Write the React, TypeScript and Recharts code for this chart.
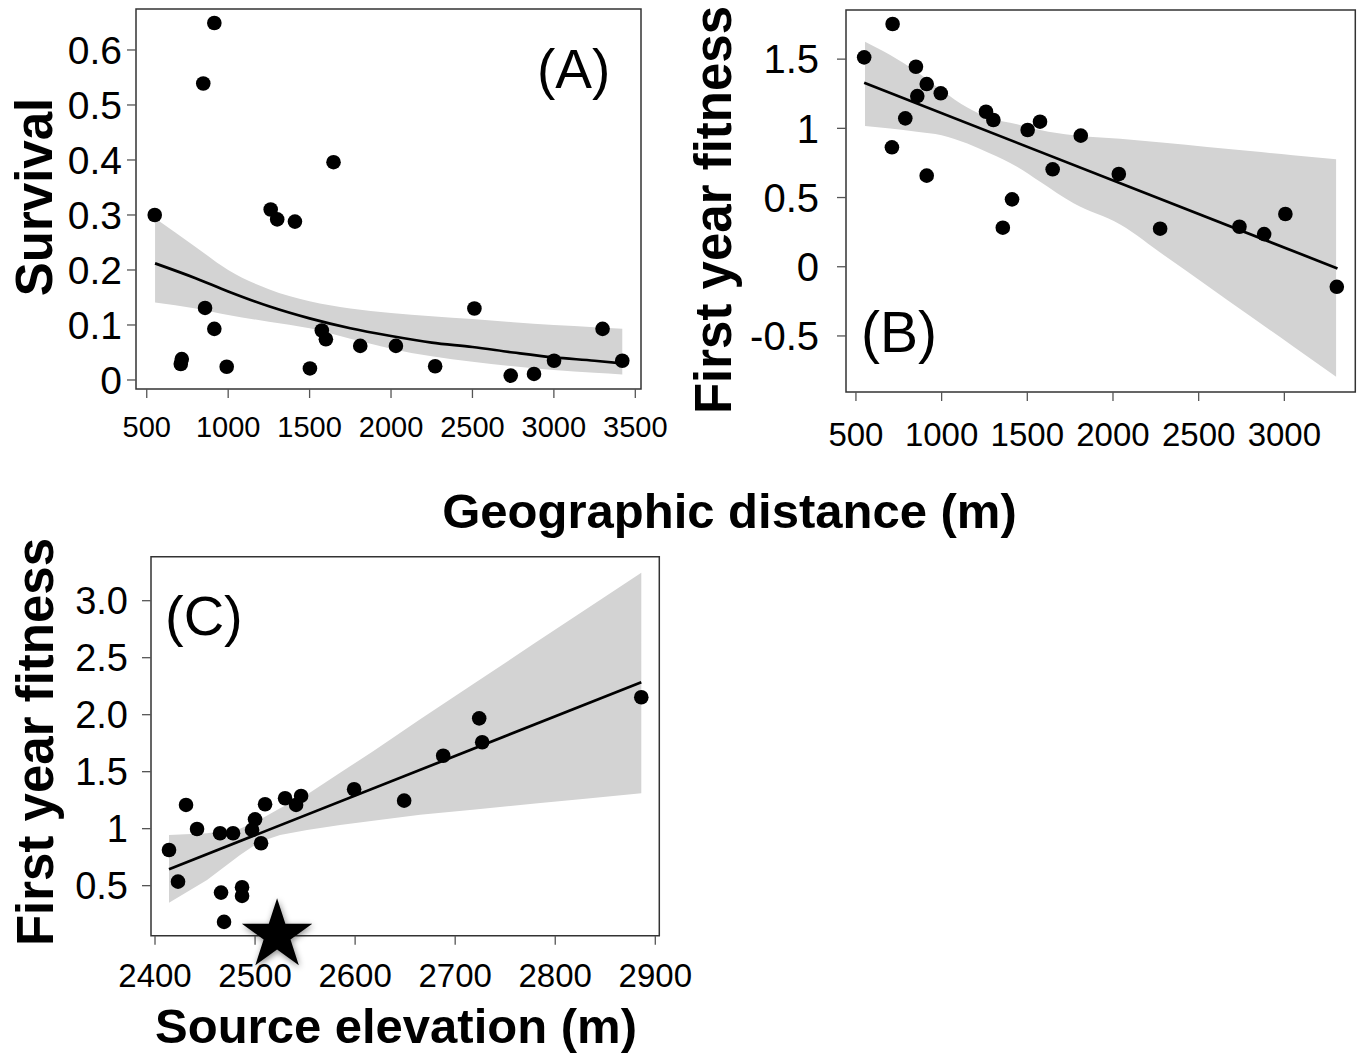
import React from "react";
import {
  ComposedChart,
  Area,
  Line,
  Scatter,
  XAxis,
  YAxis,
  ReferenceArea,
} from "recharts";

const FONT = "'Liberation Sans', Arial, Helvetica, sans-serif";
const BAND = "#d3d3d3";

// (A) survival vs geographic distance
const distA = [549, 915, 847, 858, 915, 715, 709, 991, 1261, 1301, 1410, 1647, 1575, 1600, 1502, 1811, 2030, 2271, 2512, 2735, 2878, 3001, 3299, 3420];
const survivalA = [0.3, 0.649, 0.539, 0.131, 0.093, 0.038, 0.029, 0.024, 0.31, 0.292, 0.288, 0.396, 0.09, 0.074, 0.021, 0.062, 0.062, 0.025, 0.13, 0.008, 0.011, 0.035, 0.093, 0.035];
const fitXA = [551, 800, 1000, 1250, 1500, 1750, 2000, 2250, 2500, 2750, 3000, 3250, 3420];
const fitYA = [0.212, 0.185, 0.161, 0.134, 0.112, 0.094, 0.08, 0.068, 0.06, 0.05, 0.041, 0.035, 0.03];
const bandLoA = [0.141, 0.13, 0.118, 0.106, 0.094, 0.075, 0.057, 0.043, 0.033, 0.025, 0.018, 0.013, 0.01];
const bandHiA = [0.294, 0.242, 0.2, 0.165, 0.143, 0.13, 0.122, 0.116, 0.111, 0.105, 0.1, 0.096, 0.093];
const xTicksA = [500, 1000, 1500, 2000, 2500, 3000, 3500];
const yTicksA = [0, 0.1, 0.2, 0.3, 0.4, 0.5, 0.6];
const yLabelsA = ["0", "0.1", "0.2", "0.3", "0.4", "0.5", "0.6"];

// (B) first year fitness vs geographic distance
const distB = [548, 714, 850, 913, 858, 995, 788, 710, 913, 1259, 1302, 1502, 1574, 1648, 1411, 1357, 1812, 2034, 2275, 2738, 2882, 3006, 3306];
const fitnessB = [1.513, 1.754, 1.445, 1.32, 1.233, 1.253, 1.072, 0.863, 0.658, 1.12, 1.06, 0.988, 1.048, 0.704, 0.487, 0.282, 0.947, 0.67, 0.275, 0.289, 0.236, 0.381, -0.145];
const fitXB = [548, 3310];
const fitYB = [1.329, -0.012];
const bandXB = [553, 700, 855, 1000, 1150, 1280, 1440, 1575, 1770, 2042, 2300, 2550, 2800, 3050, 3302];
const bandLoB = [1.017, 0.998, 0.975, 0.95, 0.89, 0.82, 0.723, 0.614, 0.458, 0.305, 0.081, -0.137, -0.356, -0.574, -0.795];
const bandHiB = [1.626, 1.53, 1.409, 1.275, 1.15, 1.075, 1.03, 0.988, 0.95, 0.925, 0.895, 0.865, 0.836, 0.806, 0.776];
const xTicksB = [500, 1000, 1500, 2000, 2500, 3000];
const yTicksB = [-0.5, 0, 0.5, 1, 1.5];
const yLabelsB = ["-0.5", "0", "0.5", "1", "1.5"];

// (C) first year fitness vs source elevation
const elevC = [2414, 2423, 2431, 2442, 2465, 2478, 2466, 2469, 2487, 2487, 2497, 2500, 2506, 2510, 2530, 2541, 2546, 2599, 2649, 2688, 2724, 2727, 2886];
const fitnessC = [0.813, 0.535, 1.208, 0.997, 0.96, 0.96, 0.439, 0.182, 0.486, 0.41, 0.989, 1.082, 0.872, 1.214, 1.267, 1.208, 1.287, 1.346, 1.246, 1.64, 1.968, 1.758, 2.153];
const fitXC = [2414, 2886];
const fitYC = [0.644, 2.284];
const bandXC = [2414, 2452, 2485, 2505, 2525, 2552, 2585, 2618, 2665, 2720, 2780, 2830, 2886];
const bandLoC = [0.351, 0.55, 0.769, 0.886, 0.945, 0.989, 1.032, 1.07, 1.122, 1.169, 1.22, 1.262, 1.31];
const bandHiC = [0.945, 0.96, 1.0, 1.08, 1.18, 1.3, 1.49, 1.68, 1.96, 2.28, 2.63, 2.92, 3.246];
const starElev = [2522];
const starY = [0.065];
const xTicksC = [2400, 2500, 2600, 2700, 2800, 2900];
const yTicksC = [0.5, 1, 1.5, 2, 2.5, 3];
const yLabelsC = ["0.5", "1", "1.5", "2.0", "2.5", "3.0"];

const zip = (xs: number[], ys: number[]) => xs.map((x, i) => ({ x, y: ys[i] }));
const zipBand = (xs: number[], lo: number[], hi: number[]) =>
  xs.map((x, i) => ({ x, range: [lo[i], hi[i]] }));

const Dot = (props: any) => <circle cx={props.cx} cy={props.cy} r={7.3} fill="#000" />;

const Star = (props: any) => {
  const { cx, cy } = props;
  const R = 37;
  const r = R * 0.382;
  const pts: string[] = [];
  for (let i = 0; i < 10; i++) {
    const rad = i % 2 === 0 ? R : r;
    const a = -Math.PI / 2 + (i * Math.PI) / 5;
    pts.push(`${cx + rad * Math.cos(a)},${cy + rad * Math.sin(a)}`);
  }
  return (
    <g>
      <defs>
        <filter id="starShadow" x="-50%" y="-50%" width="200%" height="200%">
          <feDropShadow dx="1" dy="2" stdDeviation="3" floodColor="#000" floodOpacity="0.45" />
        </filter>
      </defs>
      <polygon points={pts.join(" ")} fill="#000" filter="url(#starShadow)" />
    </g>
  );
};

interface PanelProps {
  left: number;
  top: number;
  width: number;
  height: number;
  plot: { l: number; t: number; r: number; b: number };
  xDomain: [number, number];
  yDomain: [number, number];
  xTicks: number[];
  yTicks: number[];
  yLabels: string[];
  xFont: number;
  yFont: number;
  xTickMargin: number;
  yTickMargin: number;
  band: any[];
  fit: any[];
  points: any[];
  curved: boolean;
  star?: any[];
}

const Panel = (p: PanelProps) => {
  const yW = 70;
  const xH = 60;
  return (
    <div style={{ position: "absolute", left: p.left, top: p.top }}>
      <ComposedChart
        width={p.width}
        height={p.height}
        margin={{
          top: p.plot.t,
          left: p.plot.l - yW,
          right: p.width - p.plot.r,
          bottom: p.height - p.plot.b - xH,
        }}
      >
        <XAxis
          type="number"
          dataKey="x"
          domain={p.xDomain}
          ticks={p.xTicks}
          interval={0}
          height={xH}
          axisLine={false}
          tickLine={{ stroke: "#555", strokeWidth: 1.3 }}
          tickSize={9}
          tickMargin={p.xTickMargin}
          tick={{ fontSize: p.xFont, fill: "#000", fontFamily: FONT }}
        />
        <YAxis
          type="number"
          domain={p.yDomain}
          ticks={p.yTicks}
          interval={0}
          width={yW}
          axisLine={false}
          tickLine={{ stroke: "#555", strokeWidth: 1.3 }}
          tickSize={9}
          tickMargin={p.yTickMargin}
          tickFormatter={(v: number, i: number) => p.yLabels[i]}
          tick={{ fontSize: p.yFont, fill: "#000", fontFamily: FONT }}
        />
        <Area
          data={p.band}
          dataKey="range"
          type={p.curved ? "monotone" : "linear"}
          stroke="none"
          fill={BAND}
          fillOpacity={1}
          isAnimationActive={false}
          dot={false}
          activeDot={false}
        />
        <Line
          data={p.fit}
          dataKey="y"
          type={p.curved ? "monotone" : "linear"}
          stroke="#000"
          strokeWidth={2.7}
          dot={false}
          activeDot={false}
          isAnimationActive={false}
        />
        <Scatter data={p.points} dataKey="y" shape={Dot} isAnimationActive={false} />
        {p.star && (
          <Scatter data={p.star} dataKey="y" shape={Star} isAnimationActive={false} />
        )}
        <ReferenceArea
          x1={p.xDomain[0]}
          x2={p.xDomain[1]}
          y1={p.yDomain[0]}
          y2={p.yDomain[1]}
          fill="none"
          stroke="#333"
          strokeWidth={1.5}
          ifOverflow="visible"
        />
      </ComposedChart>
    </div>
  );
};

const App = () => {
  const txt = { fontFamily: FONT, fill: "#000" };
  return (
    <div
      style={{
        position: "absolute",
        left: 0,
        top: 0,
        width: 1361,
        height: 1057,
        background: "#fff",
        overflow: "hidden",
      }}
    >
      <Panel
        left={0}
        top={0}
        width={680}
        height={460}
        plot={{ l: 136, t: 9, r: 641, b: 389 }}
        xDomain={[434, 3535]}
        yDomain={[-0.0164, 0.6745]}
        xTicks={xTicksA}
        yTicks={yTicksA}
        yLabels={yLabelsA}
        xFont={29}
        yFont={39}
        xTickMargin={18}
        yTickMargin={5}
        band={zipBand(fitXA, bandLoA, bandHiA)}
        fit={zip(fitXA, fitYA)}
        points={zip(distA, survivalA)}
        curved={true}
      />
      <Panel
        left={690}
        top={0}
        width={671}
        height={460}
        plot={{ l: 156, t: 10, r: 665.3, b: 392 }}
        xDomain={[442, 3414]}
        yDomain={[-0.905, 1.855]}
        xTicks={xTicksB}
        yTicks={yTicksB}
        yLabels={yLabelsB}
        xFont={33}
        yFont={40}
        xTickMargin={22}
        yTickMargin={18}
        band={zipBand(bandXB, bandLoB, bandHiB)}
        fit={zip(fitXB, fitYB)}
        points={zip(distB, fitnessB)}
        curved={true}
      />
      <Panel
        left={0}
        top={540}
        width={700}
        height={517}
        plot={{ l: 151, t: 16.7, r: 659.3, b: 395.7 }}
        xDomain={[2396, 2904]}
        yDomain={[0.061, 3.386]}
        xTicks={xTicksC}
        yTicks={yTicksC}
        yLabels={yLabelsC}
        xFont={33}
        yFont={38}
        xTickMargin={19}
        yTickMargin={14}
        band={zipBand(bandXC, bandLoC, bandHiC)}
        fit={zip(fitXC, fitYC)}
        points={zip(elevC, fitnessC)}
        curved={false}
        star={zip(starElev, starY)}
      />
      <svg
        width={1361}
        height={1057}
        style={{ position: "absolute", left: 0, top: 0, pointerEvents: "none" }}
      >
        <text {...txt} x={537} y={88} fontSize={55}>(A)</text>
        <text {...txt} x={861} y={352} fontSize={57}>(B)</text>
        <text {...txt} x={165} y={635} fontSize={56}>(C)</text>
        <text {...txt} x={52} y={197} fontSize={51} fontWeight="bold" textAnchor="middle" transform="rotate(-90 52 197)">
          Survival
        </text>
        <text {...txt} x={731} y={210} fontSize={51} fontWeight="bold" textAnchor="middle" transform="rotate(-90 731 210)">
          First year fitness
        </text>
        <text {...txt} x={53} y={742} fontSize={51} fontWeight="bold" textAnchor="middle" transform="rotate(-90 53 742)">
          First year fitness
        </text>
        <text {...txt} x={729.5} y={528} fontSize={49} fontWeight="bold" textAnchor="middle">
          Geographic distance (m)
        </text>
        <text {...txt} x={396} y={1043} fontSize={49} fontWeight="bold" textAnchor="middle">
          Source elevation (m)
        </text>
      </svg>
    </div>
  );
};

export default App;
